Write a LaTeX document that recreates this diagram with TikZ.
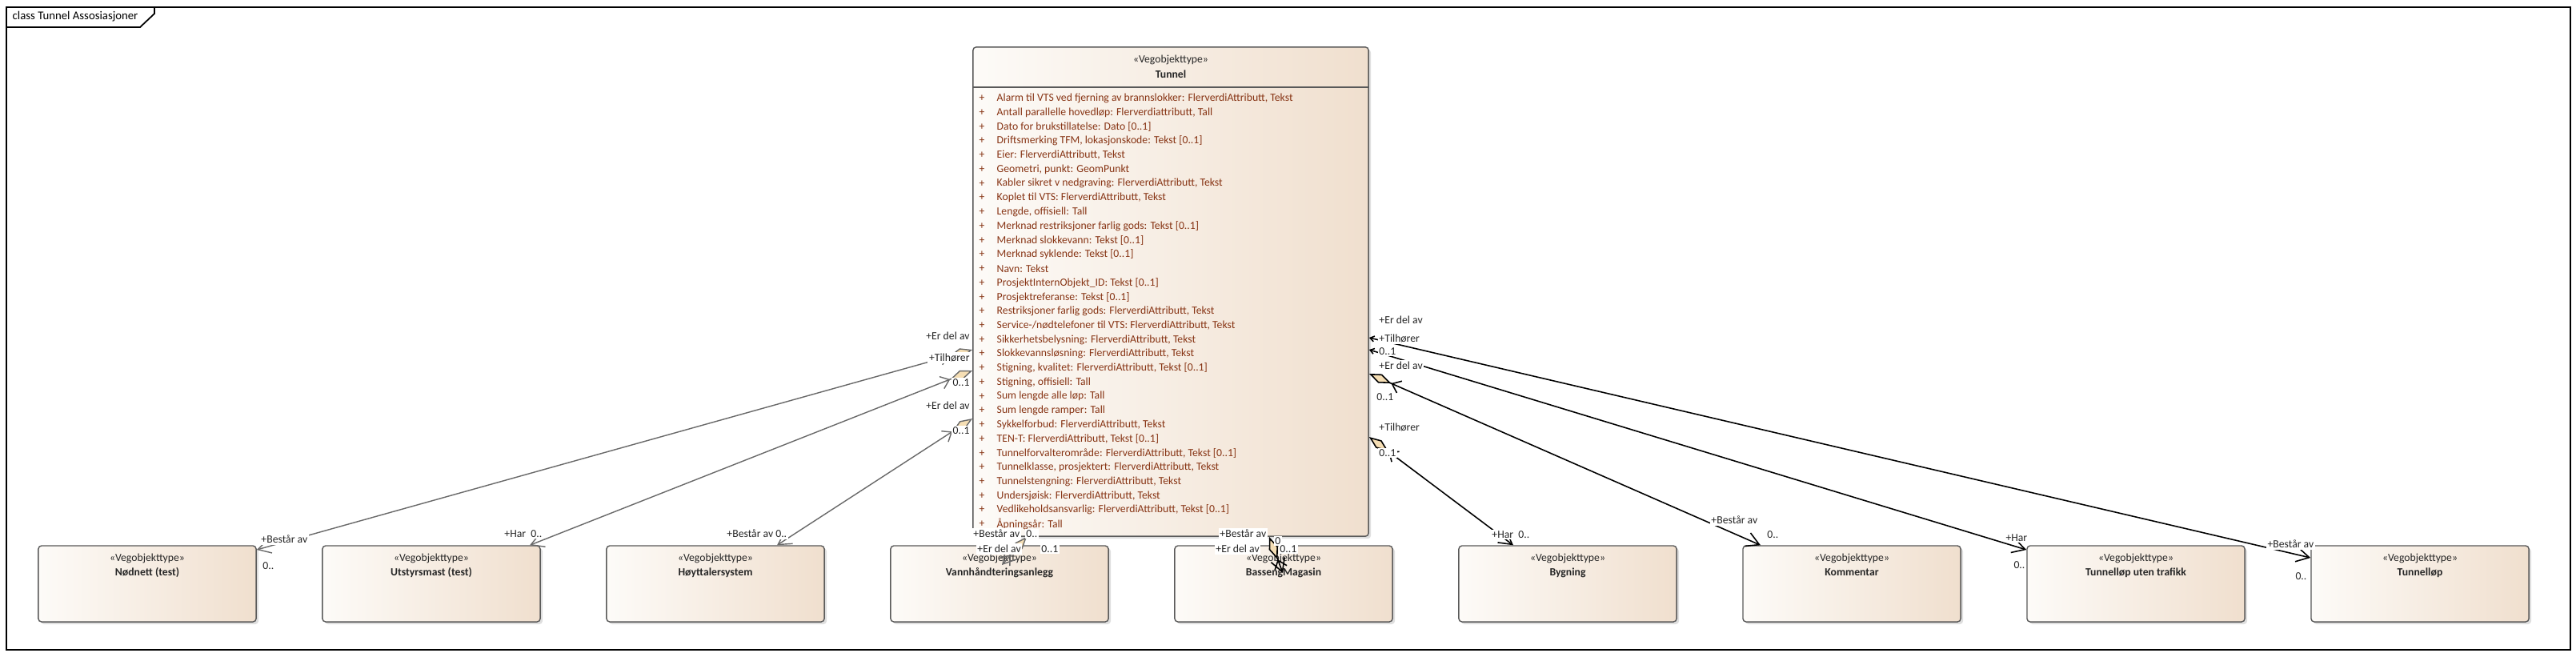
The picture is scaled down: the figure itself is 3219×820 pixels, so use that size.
\documentclass[tikz,border=0pt]{standalone}
\usepackage{fontspec}
\setmainfont{Carlito}
\usetikzlibrary{arrows.meta, calc, shadows}
\newcommand\umlfont{\fontsize{3.9}{5.1}\selectfont}
\definecolor{boxleft}{RGB}{253,251,248}
\definecolor{boxright}{RGB}{240,223,206}
\definecolor{attrred}{RGB}{135,52,20}
\definecolor{diafill}{RGB}{245,222,180}
\definecolor{linegray}{RGB}{105,105,105}
\tikzstyle{klasse}=[draw=black!65, line width=0.4pt, rounded corners=0.04cm, left color=boxleft, right color=boxright, minimum width=2.72cm, minimum height=0.95cm, inner sep=0, drop shadow={shadow xshift=0.03cm, shadow yshift=-0.03cm, opacity=0.25}]
\tikzstyle{stereo}=[inner sep=0, align=center, text=black!85, font=\umlfont]
\tikzstyle{attr}=[anchor=west, inner sep=0, text=attrred, font=\umlfont]
\tikzstyle{rolle}=[fill=white, inner sep=0.5pt, text=black!85, font=\umlfont]
\tikzstyle{assoc}=[linegray, line width=0.4pt]
\tikzstyle{assocb}=[black, line width=0.45pt]
\tikzstyle{aggr}=[{Diamond[length=0.3cm,width=0.12cm,fill=diafill] Straight Barb[length=0.1cm,width=0.16cm]}-{Straight Barb[length=0.16cm,width=0.18cm]}]
\tikzstyle{navi}=[{Straight Barb[length=0.05cm,width=0.07cm]}-{Straight Barb[length=0.16cm,width=0.18cm]}]

\begin{document}
\begin{tikzpicture}[x=0.01cm, y=-0.01cm]
\useasboundingbox (0,0) rectangle (3219,820);

% frame
\draw[line width=0.6pt] (8,9) rectangle (3212,812);
\draw[line width=0.5pt] (8,34) -- (175,34) -- (193,17) -- (193,9);
\node[inner sep=0, anchor=west, font=\fontsize{4.2}{5}\selectfont] (title) at (15,21) {class Tunnel Assosiasjoner};

% Tunnel
\node[klasse, minimum width=4.94cm, minimum height=6.11cm] (tunnel) at (1463,364.5) {};
\draw[black!65, line width=0.4pt] (tunnel.west |- 0,109) -- (tunnel.east |- 0,109);
\node[stereo] (tst) at (1463,75) {«Vegobjekttype»};
\node[stereo, font=\umlfont\bfseries] (tnm) at (1463,93) {Tunnel};
\foreach \a [count=\i from 0] in {
  {Alarm til VTS ved fjerning av brannslokker: FlerverdiAttributt, Tekst},
  {Antall parallelle hovedløp: Flerverdiattributt, Tall},
  {Dato for brukstillatelse: Dato [0..1]},
  {Driftsmerking TFM, lokasjonskode: Tekst [0..1]},
  {Eier: FlerverdiAttributt, Tekst},
  {Geometri, punkt: GeomPunkt},
  {Kabler sikret v nedgraving: FlerverdiAttributt, Tekst},
  {Koplet til VTS: FlerverdiAttributt, Tekst},
  {Lengde, offisiell: Tall},
  {Merknad restriksjoner farlig gods: Tekst [0..1]},
  {Merknad slokkevann: Tekst [0..1]},
  {Merknad syklende: Tekst [0..1]},
  {Navn: Tekst},
  {ProsjektInternObjekt\_ID: Tekst [0..1]},
  {Prosjektreferanse: Tekst [0..1]},
  {Restriksjoner farlig gods: FlerverdiAttributt, Tekst},
  {Service-/nødtelefoner til VTS: FlerverdiAttributt, Tekst},
  {Sikkerhetsbelysning: FlerverdiAttributt, Tekst},
  {Slokkevannsløsning: FlerverdiAttributt, Tekst},
  {Stigning, kvalitet: FlerverdiAttributt, Tekst [0..1]},
  {Stigning, offisiell: Tall},
  {Sum lengde alle løp: Tall},
  {Sum lengde ramper: Tall},
  {Sykkelforbud: FlerverdiAttributt, Tekst},
  {TEN-T: FlerverdiAttributt, Tekst [0..1]},
  {Tunnelforvalterområde: FlerverdiAttributt, Tekst [0..1]},
  {Tunnelklasse, prosjektert: FlerverdiAttributt, Tekst},
  {Tunnelstengning: FlerverdiAttributt, Tekst},
  {Undersjøisk: FlerverdiAttributt, Tekst},
  {Vedlikeholdsansvarlig: FlerverdiAttributt, Tekst [0..1]},
  {Åpningsår: Tall}}{
  \node[attr] (p\i) at (1223,123+17.73*\i) {+};
  \node[attr] (a\i) at (1245,123+17.73*\i) {\a};
}

% the other classes
\foreach \nm/\txt [count=\i from 0] in {nodnett/Nødnett (test), utstyrsmast/Utstyrsmast (test), hoyttaler/Høyttalersystem, vann/Vannhåndteringsanlegg, basseng/BassengMagasin, bygning/Bygning, kommentar/Kommentar, utenTrafikk/Tunnelløp uten trafikk, tunnellop/Tunnelløp}{
  \node[klasse] (\nm) at (184+355*\i,729.5) {};
  \node[stereo, anchor=north] (\nm-txt) at ($(\nm.north)+(0,10)$) {«Vegobjekttype»\\\textbf{\txt}};
}

% associations, left
\draw[assoc, aggr] (tunnel.west |- 0,437) -- (nodnett.east |- 0,687);
\draw[assoc, aggr] (tunnel.west |- 0,463) -- (utstyrsmast.north -| 662,0);
\draw[assoc, aggr] (tunnel.west |- 0,523) -- (hoyttaler.north -| 971,0);
% associations, bottom
\coordinate (vannEnd) at (1252,706);
\coordinate (bassengEnd) at (1603,716);
\draw[assoc, aggr] (tunnel.south -| 1283,0) -- (vannEnd);
\draw[assocb, aggr] (tunnel.south -| 1586,0) -- (bassengEnd);
% associations, right
\draw[assocb, navi] (tunnel.east |- 0,422) -- (tunnellop.west |- 0,697);
\draw[assocb, navi] (tunnel.east |- 0,437) -- (utenTrafikk.west |- 0,687);
\draw[assocb, aggr] (tunnel.east |- 0,467) -- (kommentar.north -| 2200,0);
\draw[assocb, aggr] (tunnel.east |- 0,546) -- (bygning.north -| 1891,0);

% role names and multiplicities
\node[rolle, anchor=east] (l1) at (1214,420) {+Er del av};
\node[rolle, anchor=east] (l2) at (1214,447) {+Tilhører};
\node[rolle, anchor=east] (l3) at (1214,478) {0..1};
\node[rolle, anchor=east] (l4) at (1214,507) {+Er del av};
\node[rolle, anchor=east] (l5) at (1214,538) {0..1};
\node[rolle, anchor=west] (r1) at (1721,400) {+Er del av};
\node[rolle, anchor=west] (r2) at (1721,423) {+Tilhører};
\node[rolle, anchor=west] (r3) at (1721,439) {0..1};
\node[rolle, anchor=west] (r4) at (1721,457) {+Er del av};
\node[rolle, anchor=west] (r5) at (1718,496) {0..1};
\node[rolle, anchor=west] (r6) at (1721,534) {+Tilhører};
\node[rolle, anchor=west] (r7) at (1721,566) {0..1};

\node[rolle, anchor=west] (m1) at (324,674) {+Består av};
\node[rolle, anchor=west] (m2) at (326,707) {0..};
\node[rolle, anchor=west] (m3) at (628,667) {+Har\ \ 0..};
\node[rolle, anchor=west] (m4) at (906,667) {+Består av 0..};
\node[rolle, anchor=west] (m5) at (1214,667) {+Består av};
\node[rolle, anchor=west] (m6) at (1280,667) {0..};
\node[rolle, anchor=west] (m7) at (1219,686) {+Er del av};
\node[rolle, anchor=west] (m8) at (1299,686) {0..1};
\node[rolle, anchor=west] (m9) at (1522,667) {+Består av};
\node[rolle, anchor=west] (m10) at (1591,676) {0};
\node[rolle, anchor=west] (m11) at (1517,686) {+Er del av};
\node[rolle, anchor=west] (m12) at (1597,686) {0..1};
\node[rolle, anchor=west] (m13) at (1862,668) {+Har\ \ 0..};
\node[rolle, anchor=west] (m14) at (2136,650) {+Består av};
\node[rolle, anchor=west] (m15) at (2206,668) {0..};
\node[rolle, anchor=west] (m16) at (2504,672) {+Har};
\node[rolle, anchor=west] (m17) at (2514,706) {0..};
\node[rolle, anchor=west] (m18) at (2831,680) {+Består av};
\node[rolle, anchor=west] (m19) at (2866,720) {0..};
\end{tikzpicture}
\end{document}
